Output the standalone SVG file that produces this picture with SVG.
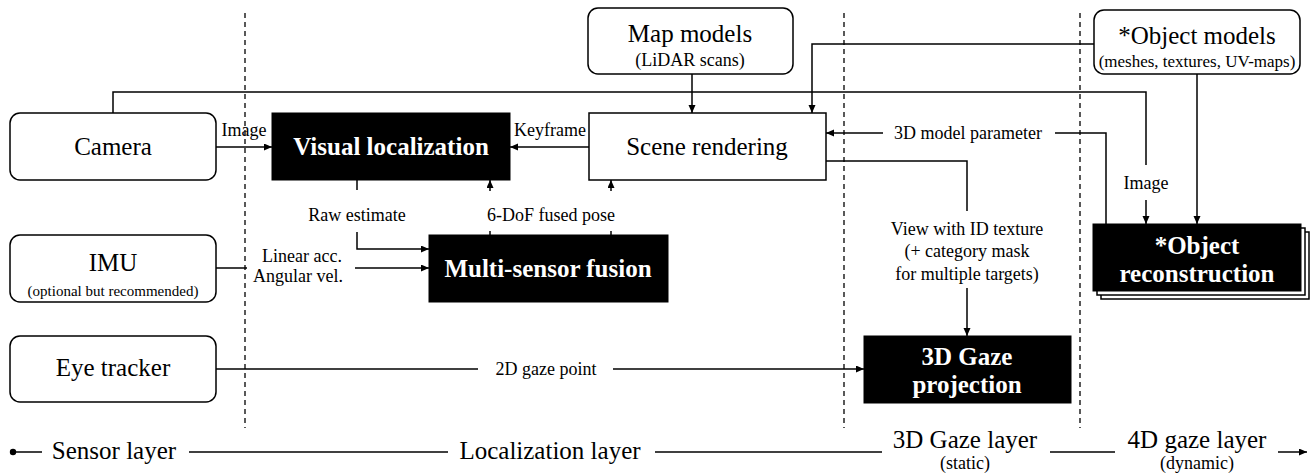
<svg xmlns="http://www.w3.org/2000/svg" width="1310" height="474" viewBox="0 0 1310 474">
<defs>
<marker id="ah" markerUnits="userSpaceOnUse" markerWidth="9" markerHeight="8" refX="8" refY="3.5" orient="auto">
<path d="M0,0 L8,3.5 L0,7 z" fill="#000"/>
</marker>
<style>
.box{fill:#fff;stroke:#000;stroke-width:1.5}
.blk{fill:#000;stroke:#000;stroke-width:1}
.t{font-family:"Liberation Serif","Times New Roman",serif;fill:#000;text-anchor:middle}
.big{font-size:25px}
.lbl{font-size:18px}
.w{fill:#fff;font-weight:bold;font-size:25px}
.ln{fill:none;stroke:#000;stroke-width:1.5}
.dash{stroke:#000;stroke-width:1.3;stroke-dasharray:5 4}
</style>
</defs>
<rect width="1310" height="474" fill="#fff"/>

<g id="layers">
<line class="dash" x1="245" y1="13" x2="245" y2="428"/>
<line class="dash" x1="844" y1="13" x2="844" y2="428"/>
<line class="dash" x1="1080" y1="13" x2="1080" y2="428"/>
</g>

<g id="connectors">
<polyline class="ln" points="113,113 113,92 1146,92 1146,165"/>
<line class="ln" x1="1146" y1="200" x2="1146" y2="224" marker-end="url(#ah)"/>
<line class="ln" x1="216" y1="147" x2="272" y2="147" marker-end="url(#ah)"/>
<line class="ln" x1="589" y1="147" x2="510" y2="147" marker-end="url(#ah)"/>
<line class="ln" x1="692" y1="74" x2="692" y2="113" marker-end="url(#ah)"/>
<polyline class="ln" points="1094,44 812,44 812,113" marker-end="url(#ah)"/>
<line class="ln" x1="1197" y1="74" x2="1197" y2="224" marker-end="url(#ah)"/>
<polyline class="ln" points="1106,224 1106,133 1055,133"/>
<line class="ln" x1="883" y1="133" x2="826" y2="133" marker-end="url(#ah)"/>
<polyline class="ln" points="826,161 967,161 967,211"/>
<line class="ln" x1="967" y1="288" x2="967" y2="336" marker-end="url(#ah)"/>
<line class="ln" x1="357" y1="180" x2="357" y2="190"/>
<polyline class="ln" points="357,232 357,249 429,249" marker-end="url(#ah)"/>
<line class="ln" x1="216" y1="268" x2="247" y2="268"/>
<line class="ln" x1="355" y1="268" x2="429" y2="268" marker-end="url(#ah)"/>
<line class="ln" x1="490" y1="235" x2="490" y2="231"/>
<line class="ln" x1="490" y1="191" x2="490" y2="180" marker-end="url(#ah)"/>
<line class="ln" x1="611" y1="235" x2="611" y2="231"/>
<line class="ln" x1="611" y1="191" x2="611" y2="180" marker-end="url(#ah)"/>
<line class="ln" x1="216" y1="369" x2="478" y2="369"/>
<line class="ln" x1="613" y1="369" x2="864" y2="369" marker-end="url(#ah)"/>
<text class="t lbl" x="244" y="136">Image</text>
<text class="t lbl" x="550" y="136">Keyframe</text>
<text class="t lbl" x="968" y="139">3D model parameter</text>
<text class="t lbl" x="1146" y="189">Image</text>
<text class="t lbl" x="967" y="235">View with ID texture</text>
<text class="t lbl" x="967" y="257">(+ category mask</text>
<text class="t lbl" x="967" y="280">for multiple targets)</text>
<text class="t lbl" x="357" y="221">Raw estimate</text>
<text class="t lbl" x="551" y="221">6-DoF fused pose</text>
<text class="t lbl" x="302" y="262">Linear acc.</text>
<text class="t lbl" x="298" y="282">Angular vel.</text>
<text class="t lbl" x="546" y="375">2D gaze point</text>
</g>

<g id="camera">
<rect class="box" x="10" y="113" width="206" height="67" rx="10"/>
<text class="t big" x="113" y="155">Camera</text>
</g>
<g id="imu">
<rect class="box" x="10" y="235" width="206" height="67" rx="10"/>
<text class="t big" x="113" y="271">IMU</text>
<text class="t" x="113" y="296" font-size="15">(optional but recommended)</text>
</g>
<g id="eye-tracker">
<rect class="box" x="10" y="336" width="206" height="66" rx="10"/>
<text class="t big" x="113" y="376">Eye tracker</text>
</g>
<g id="visual-localization">
<rect class="blk" x="272" y="113" width="238" height="67"/>
<text class="t w" x="391" y="155">Visual localization</text>
</g>
<g id="scene-rendering">
<rect class="box" x="589" y="113" width="237" height="67"/>
<text class="t big" x="707" y="155">Scene rendering</text>
</g>
<g id="map-models">
<rect class="box" x="588" y="8" width="205" height="66" rx="10"/>
<text class="t big" x="690" y="42">Map models</text>
<text class="t lbl" x="690" y="66">(LiDAR scans)</text>
</g>
<g id="object-models">
<rect class="box" x="1094" y="10" width="206" height="64" rx="10"/>
<text class="t big" x="1197" y="44">*Object models</text>
<text class="t" x="1197" y="67" font-size="17">(meshes, textures, UV-maps)</text>
</g>
<g id="multi-sensor-fusion">
<rect class="blk" x="429" y="235" width="239" height="67"/>
<text class="t w" x="548" y="277">Multi-sensor fusion</text>
</g>
<g id="gaze-projection">
<rect class="blk" x="864" y="336" width="207" height="67"/>
<text class="t w" x="967" y="365">3D Gaze</text>
<text class="t w" x="967" y="393">projection</text>
</g>
<g id="object-reconstruction">
<rect class="box" x="1101" y="232" width="208" height="67"/>
<rect class="box" x="1097" y="228" width="208" height="67"/>
<rect class="blk" x="1093" y="224" width="208" height="67"/>
<text class="t w" x="1197" y="254">*Object</text>
<text class="t w" x="1197" y="282">reconstruction</text>
</g>

<g id="axis">
<circle cx="13" cy="452" r="3.2" fill="#000"/>
<line class="ln" x1="13" y1="452" x2="42" y2="452"/>
<line class="ln" x1="189" y1="452" x2="448" y2="452"/>
<line class="ln" x1="655" y1="452" x2="882" y2="452"/>
<line class="ln" x1="1050" y1="452" x2="1115" y2="452"/>
<line class="ln" x1="1278" y1="452" x2="1307" y2="452" marker-end="url(#ah)"/>
<text class="t big" x="114" y="459">Sensor layer</text>
<text class="t big" x="550" y="459">Localization layer</text>
<text class="t big" x="965" y="448">3D Gaze layer</text>
<text class="t lbl" x="965" y="469">(static)</text>
<text class="t big" x="1197" y="448">4D gaze layer</text>
<text class="t lbl" x="1197" y="469">(dynamic)</text>
</g>
</svg>
